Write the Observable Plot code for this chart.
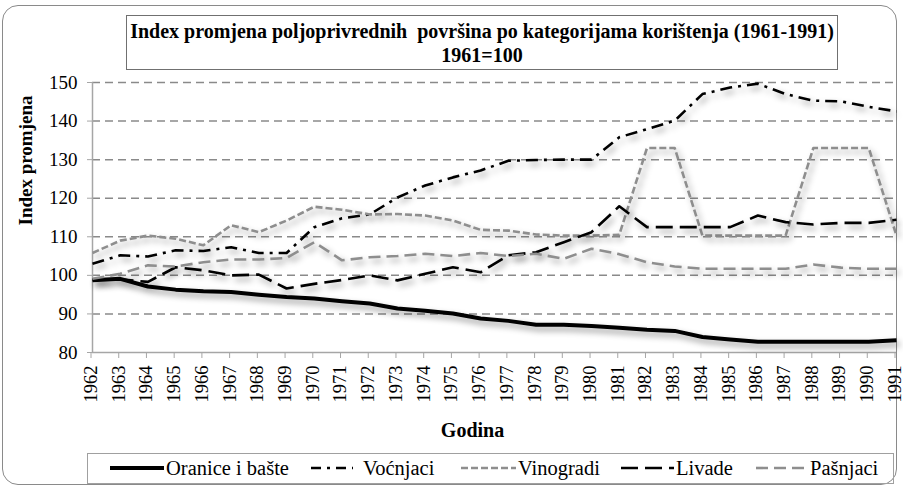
<!DOCTYPE html>
<html><head><meta charset="utf-8">
<script src="https://cdn.jsdelivr.net/npm/d3@7"></script>
<script src="https://cdn.jsdelivr.net/npm/@observablehq/plot@0.6"></script>
<style>
body{margin:0;background:#fff;width:903px;height:492px;position:relative;overflow:hidden;font-family:"Liberation Serif","Tinos","Times New Roman","DejaVu Serif",serif;color:#000;}
#frame{position:absolute;left:2px;top:5px;width:895px;height:480px;border:1.5px solid #8a8a8a;border-radius:16px;box-sizing:border-box;}
#title{position:absolute;left:126px;top:15px;width:712px;height:55px;border:1.5px solid #707070;box-sizing:border-box;text-align:center;font-weight:bold;font-size:20px;line-height:24px;padding-top:3px;white-space:nowrap;}
#chart{position:absolute;left:0;top:72px;}
#legend{position:absolute;left:87px;top:453px;width:807px;height:31px;border:1.5px solid #a0a0a0;box-sizing:border-box;}
.item{position:absolute;top:0;height:28px;display:flex;align-items:center;font-size:20.5px;white-space:nowrap;}
.item svg{margin-right:2px;}
#chart g[aria-label="line"]{filter:drop-shadow(3px 4px 3px rgba(0,0,0,0.4));}
</style></head>
<body>
<div id="frame"></div>
<div id="title">Index promjena poljoprivrednih&nbsp; površina po kategorijama korištenja (1961-1991)<br>1961=100</div>
<div id="chart"></div>
<div id="legend"></div>
<script>
const years = [1962,1963,1964,1965,1966,1967,1968,1969,1970,1971,1972,1973,1974,1975,1976,1977,1978,1979,1980,1981,1982,1983,1984,1985,1986,1987,1988,1989,1990,1991];
const oranice = [98.7,99.1,97.1,96.3,95.9,95.7,95.0,94.4,94.0,93.3,92.7,91.4,90.8,90.1,88.8,88.2,87.2,87.2,86.9,86.4,85.9,85.6,84.0,83.4,82.8,82.8,82.8,82.8,82.8,83.2];
const vocnjaci = [103.0,105.2,104.9,106.5,106.3,107.3,105.8,105.8,112.5,114.8,115.8,120.2,123.3,125.4,127.2,129.7,129.9,130.0,130.0,135.8,137.9,140.1,147.0,148.7,149.7,147.0,145.3,145.1,143.7,142.5];
const vinogradi = [105.8,109.0,110.3,109.5,107.8,113.0,111.2,114.2,117.8,117.0,115.8,115.9,115.5,114.2,111.8,111.6,110.6,110.3,110.3,110.5,133.0,133.0,110.3,110.3,110.3,110.3,133.0,133.0,133.0,110.3];
const livade = [98.8,99.0,98.3,102.1,101.3,100.0,100.2,96.6,97.8,98.8,100.0,98.7,100.4,102.1,100.8,105.2,106.0,108.6,111.2,117.9,112.5,112.5,112.5,112.5,115.5,113.8,113.2,113.6,113.6,114.4];
const pasnjaci = [99.1,100.4,102.6,102.3,103.4,104.1,104.1,104.5,108.6,103.9,104.7,105.0,105.6,105.0,105.8,105.0,105.6,104.3,106.9,105.5,103.4,102.3,101.7,101.7,101.7,101.7,102.8,102.0,101.7,101.7];
const seriesNames = ["Oranice i bašte","Voćnjaci","Vinogradi","Livade","Pašnjaci"];
const yTicks = [80,90,100,110,120,130,140,150];

const seriesValues = [oranice, vocnjaci, vinogradi, livade, pasnjaci];
const styles = [
  {stroke:"#000", width:4, dash:null},
  {stroke:"#000", width:2.6, dash:"12,6,3,6"},
  {stroke:"#8e8e8e", width:2.6, dash:"7,3"},
  {stroke:"#000", width:2.6, dash:"17,7"},
  {stroke:"#8e8e8e", width:2.6, dash:"12,6"}
];
const gridStroke = "#8a8a8a";
const axisStroke = "#a6a6a6";
const fontStack = '"Liberation Serif","Tinos","Times New Roman","DejaVu Serif",serif';

const lineMarks = seriesValues.map((vals, k) => Plot.line(
  years.map((y, i) => ({year: y, value: vals[i], name: seriesNames[k]})),
  {x: "year", y: "value", stroke: styles[k].stroke, strokeWidth: styles[k].width,
   strokeDasharray: styles[k].dash, strokeLinejoin: "round", strokeLinecap: "butt"}
));

const chart = Plot.plot({
  width: 903, height: 376,
  marginLeft: 92, marginRight: 7, marginTop: 10, marginBottom: 96,
  x: {domain: [1962, 1991]},
  y: {domain: [80, 150]},
  style: {fontFamily: fontStack, fontSize: "19px", color: "#000", background: "transparent", overflow: "visible"},
  marks: [
    Plot.ruleY(yTicks.slice(1), {stroke: gridStroke, strokeWidth: 1.5, strokeDasharray: "8,5"}),
    Plot.axisY({ticks: yTicks, tickSize: 5, tickPadding: 10, stroke: axisStroke, label: null, fontSize: 19}),
    Plot.axisX({ticks: years, tickFormat: d => String(d), tickRotate: -90, tickSize: 6, tickPadding: 7, stroke: axisStroke, label: null, fontSize: 18.5, dx: -1.5}),
    Plot.ruleY([80], {stroke: axisStroke, strokeWidth: 1.5}),
    Plot.ruleX([1962], {stroke: axisStroke, strokeWidth: 1.5}),
    ...lineMarks,
    Plot.text(["Index promjena"], {frameAnchor: "left", dx: -67, dy: 8, rotate: -90, text: d => d, fontWeight: "bold", fontSize: 19}),
    Plot.text(["Godina"], {frameAnchor: "bottom", dy: 84, dx: -22, text: d => d, fontWeight: "bold", fontSize: 20})
  ]
});
document.getElementById("chart").appendChild(chart);

// legend
const legendPos = [
  {left: 22, sw: 54},
  {left: 223, sw: 42, gap: 10},
  {left: 373, sw: 55},
  {left: 533, sw: 53},
  {left: 668, sw: 52}
];
const legend = document.getElementById("legend");
seriesNames.forEach((name, k) => {
  const p = legendPos[k], s = styles[k];
  const item = document.createElement("div");
  item.className = "item";
  item.style.left = p.left + "px";
  const svgNS = "http://www.w3.org/2000/svg";
  const sv = document.createElementNS(svgNS, "svg");
  sv.setAttribute("width", p.sw); sv.setAttribute("height", 10);
  if (p.gap) sv.style.marginRight = p.gap + "px";
  const ln = document.createElementNS(svgNS, "line");
  ln.setAttribute("x1", 0); ln.setAttribute("x2", p.sw);
  ln.setAttribute("y1", 5); ln.setAttribute("y2", 5);
  ln.setAttribute("stroke", s.stroke);
  ln.setAttribute("stroke-width", s.width);
  if (s.dash) ln.setAttribute("stroke-dasharray", k === 1 ? "10,6,3,6" : s.dash);
  sv.appendChild(ln);
  item.appendChild(sv);
  const t = document.createElement("span");
  t.textContent = name;
  item.appendChild(t);
  legend.appendChild(item);
});
</script>
</body></html>
